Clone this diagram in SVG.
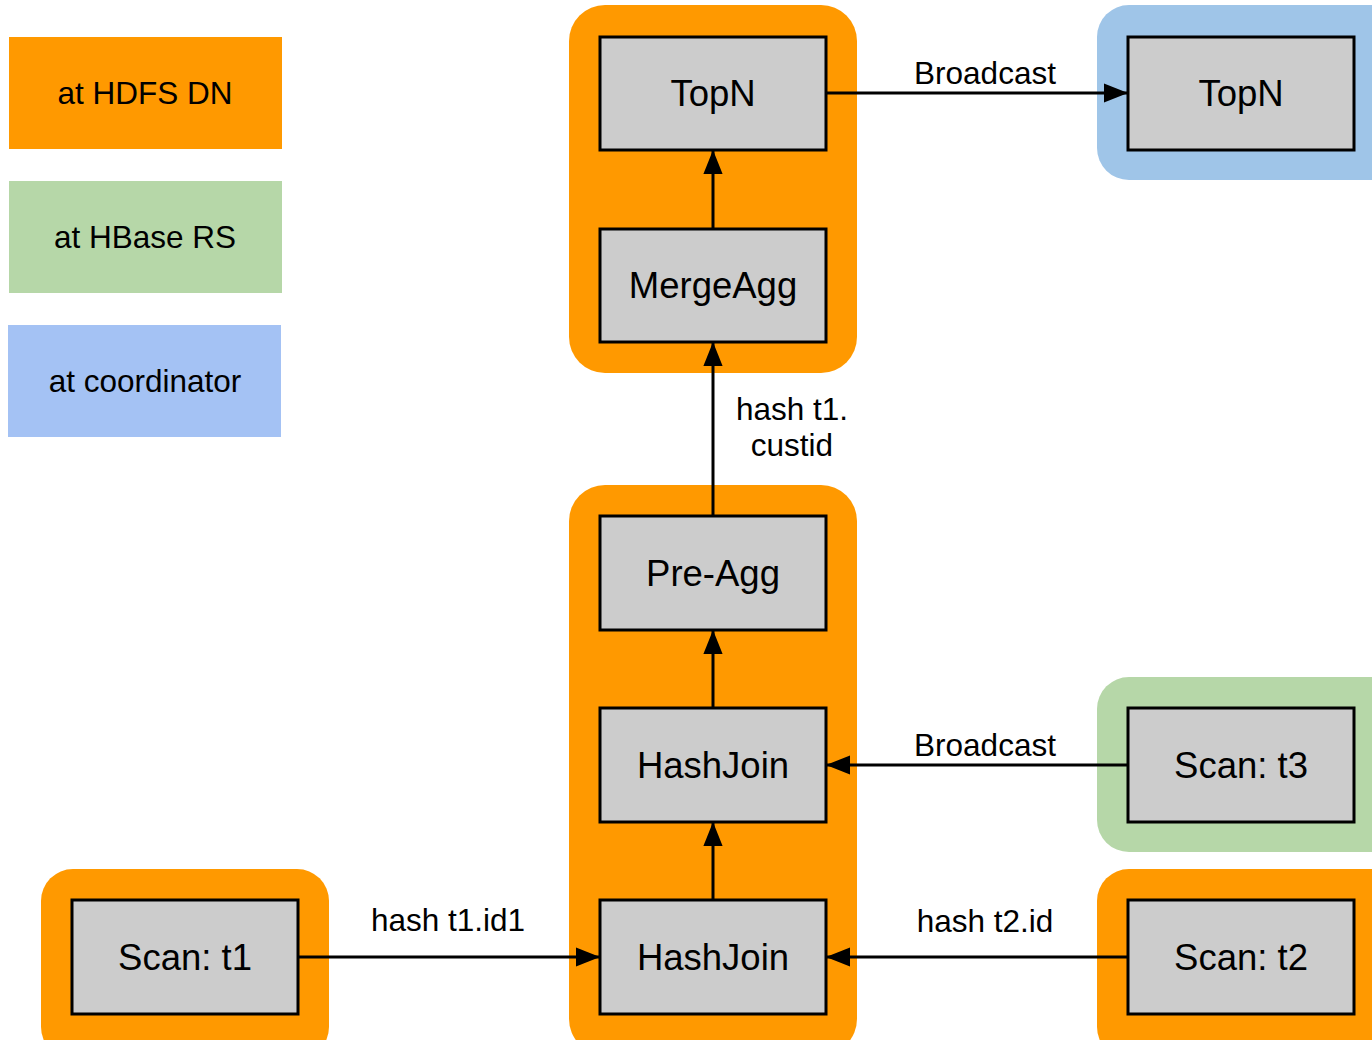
<svg xmlns="http://www.w3.org/2000/svg" width="1372" height="1040" viewBox="0 0 1372 1040">
  <style>
    .lbl { font-family: "Liberation Sans", Arial, sans-serif; fill: #000; }
    .node rect { fill: #cccccc; stroke: #000; stroke-width: 3; }
    .node text { font-size: 36.5px; text-anchor: middle; }
    .legend text { font-size: 31.5px; text-anchor: middle; }
    .edge-label { font-size: 31.5px; text-anchor: middle; }
    .conn line { stroke: #000; stroke-width: 3; marker-end: url(#arrow); }
    .dn { fill: #ff9900; }
    .rs { fill: #b6d7a8; }
    .co { fill: #9fc5e8; }
  </style>
  <defs>
    <marker id="arrow" markerWidth="8" markerHeight="6.4" refX="8" refY="3.2" orient="auto" markerUnits="strokeWidth">
      <path d="M0,0 L8,3.2 L0,6.4 Z" fill="#000"/>
    </marker>
  </defs>

  <rect width="1372" height="1040" fill="#fff"/>

  <!-- Legend -->
  <g id="legend" class="legend lbl">
    <rect x="9" y="37" width="273" height="112" fill="#ff9900"/>
    <text x="145" y="104">at HDFS DN</text>
    <rect x="9" y="181" width="273" height="112" fill="#b6d7a8"/>
    <text x="145" y="248">at HBase RS</text>
    <rect x="8" y="325" width="273" height="112" fill="#a4c2f4"/>
    <text x="145" y="392">at coordinator</text>
  </g>

  <!-- Execution location groups -->
  <g id="groups">
    <rect class="dn" x="569" y="5" width="288" height="368" rx="36"/>
    <rect class="co" x="1097" y="5" width="310" height="175" rx="32"/>
    <rect class="dn" x="569" y="485" width="288" height="570" rx="36"/>
    <rect class="rs" x="1097" y="677" width="310" height="175" rx="32"/>
    <rect class="dn" x="1097" y="869" width="310" height="190" rx="32"/>
    <rect class="dn" x="41" y="869" width="288" height="190" rx="32"/>
  </g>

  <!-- Connectors -->
  <g id="connectors" class="conn">
    <line x1="826" y1="93" x2="1128" y2="93"/>
    <line x1="713" y1="229" x2="713" y2="150"/>
    <line x1="713" y1="516" x2="713" y2="342"/>
    <line x1="713" y1="708" x2="713" y2="630"/>
    <line x1="713" y1="900" x2="713" y2="822"/>
    <line x1="1128" y1="765" x2="826" y2="765"/>
    <line x1="1128" y1="957" x2="826" y2="957"/>
    <line x1="298" y1="957" x2="600" y2="957"/>
  </g>

  <g id="connector-labels" class="lbl">
    <text class="edge-label" x="985" y="84">Broadcast</text>
    <text class="edge-label" x="792" y="420">hash t1.</text>
    <text class="edge-label" x="792" y="456">custid</text>
    <text class="edge-label" x="985" y="756">Broadcast</text>
    <text class="edge-label" x="985" y="932">hash t2.id</text>
    <text class="edge-label" x="448" y="931">hash t1.id1</text>
  </g>

  <!-- Operators -->
  <g id="topn-dn" class="node lbl">
    <rect x="600" y="37" width="226" height="113"/>
    <text x="713" y="106">TopN</text>
  </g>
  <g id="topn-coord" class="node lbl">
    <rect x="1128" y="37" width="226" height="113"/>
    <text x="1241" y="106">TopN</text>
  </g>
  <g id="mergeagg" class="node lbl">
    <rect x="600" y="229" width="226" height="113"/>
    <text x="713" y="298">MergeAgg</text>
  </g>
  <g id="preagg" class="node lbl">
    <rect x="600" y="516" width="226" height="114"/>
    <text x="713" y="586">Pre-Agg</text>
  </g>
  <g id="hashjoin-upper" class="node lbl">
    <rect x="600" y="708" width="226" height="114"/>
    <text x="713" y="778">HashJoin</text>
  </g>
  <g id="hashjoin-lower" class="node lbl">
    <rect x="600" y="900" width="226" height="114"/>
    <text x="713" y="970">HashJoin</text>
  </g>
  <g id="scan-t3" class="node lbl">
    <rect x="1128" y="708" width="226" height="114"/>
    <text x="1241" y="778">Scan: t3</text>
  </g>
  <g id="scan-t2" class="node lbl">
    <rect x="1128" y="900" width="226" height="114"/>
    <text x="1241" y="970">Scan: t2</text>
  </g>
  <g id="scan-t1" class="node lbl">
    <rect x="72" y="900" width="226" height="114"/>
    <text x="185" y="970">Scan: t1</text>
  </g>
</svg>
